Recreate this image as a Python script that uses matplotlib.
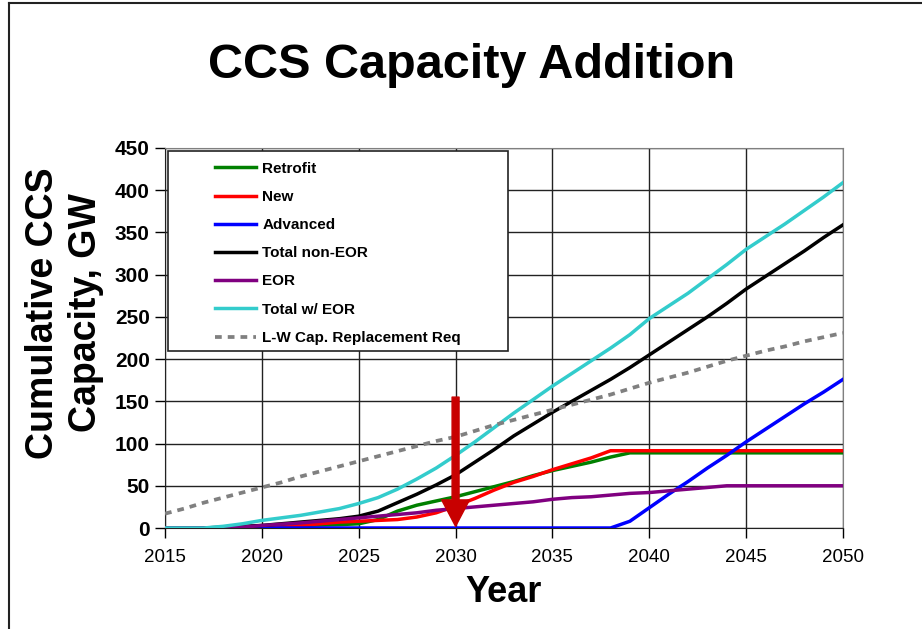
import matplotlib
matplotlib.use('Agg')
import matplotlib.pyplot as plt
from matplotlib.lines import Line2D
from matplotlib.patches import Rectangle

plt.rcParams['font.family'] = ['Liberation Sans', 'DejaVu Sans']

years = list(range(2015, 2051))

retrofit = [0, 0, 0, 0, 0.5, 1, 2, 3, 3.5, 4, 5, 10, 20, 27, 32, 37, 43, 49, 55, 62,
            68, 73, 78, 84, 89, 89, 89, 89, 89, 89, 89, 89, 89, 89, 89, 89]
new = [0, 0, 0, 0, 0, 1, 2, 3, 5, 7, 8, 9, 10, 13, 18, 26, 35, 45, 54, 61,
       69, 76, 83, 91.5, 91.5, 91.5, 91.5, 91.5, 91.5, 91.5, 91.5, 91.5, 91.5, 91.5, 91.5, 91.5]
advanced = [0, 0, 0, 0, 0, 0, 0, 0, 0, 0, 0, 0, 0, 0, 0, 0, 0, 0, 0, 0,
            0, 0, 0, 0, 8, 24, 40, 55, 71, 86, 102, 117, 132, 147, 161, 176]
total_non_eor = [0, 0, 0, 1, 2, 3, 5, 7, 9, 11, 14, 20, 30, 40, 51, 63, 78, 93, 109, 123,
                 137, 150, 163, 176, 190, 205, 220, 235, 250, 266, 283, 298, 313, 328, 344, 359]
eor = [0, 0, 0, 0.5, 1, 3, 4.5, 6, 8, 10, 12, 14, 16, 18, 21, 23, 25, 27, 29, 31,
       34, 36, 37, 39, 41, 42, 44, 46, 48, 50, 50, 50, 50, 50, 50, 50]
total_w_eor = [0, 0, 0, 2, 5, 9, 12, 15, 19, 23, 29, 36, 46, 58, 71, 86, 102, 119, 136, 152,
               168, 183, 198, 213, 229, 248, 263, 278, 295, 312, 330, 345, 360, 376, 392, 409]
lw_replacement = [17, 23, 30, 36, 42, 48, 54, 61, 67, 73, 79, 85, 91, 97, 103, 108, 115, 122, 128, 134,
                  140, 146, 152, 158, 165, 172, 178, 184, 191, 198, 204, 210, 215, 221, 226, 231]

series_labels = ['Retrofit', 'New', 'Advanced', 'Total non-EOR', 'EOR', 'Total w/ EOR',
                 'L-W Cap. Replacement Req']
series_colors = ['#008000', '#FF0000', '#0000FF', '#000000', '#800080', '#33CCCC', '#808080']

arrow_year = 2030
arrow_from = 155
arrow_to = 2

fig = plt.figure(figsize=(9.22, 6.29), dpi=100)
ax = fig.add_axes([165 / 922, 1 - 528 / 629, 678 / 922, 380 / 629])

data = [retrofit, new, advanced, total_non_eor, eor, total_w_eor]
for vals, lab, col in zip(data, series_labels[:6], series_colors[:6]):
    ax.plot(years, vals, color=col, lw=2.5, label=lab, zorder=3)
ax.plot(years, lw_replacement, color=series_colors[6], lw=2.7, ls=(0, (1.8, 1.6)),
        label=series_labels[6], zorder=3)

ax.set_xlim(2015, 2050)
ax.set_ylim(0, 450)
ax.set_xticks(range(2015, 2051, 5))
ax.set_yticks(range(0, 451, 50))
ax.grid(True, color='#222222', lw=1.0)
ax.set_axisbelow(True)
for side in ['top', 'right']:
    ax.spines[side].set_color('#808080')
for side in ['left', 'bottom']:
    ax.spines[side].set_color('#222222')
ax.tick_params(axis='x', direction='out', length=7, width=1, labelsize=13.5, pad=8)
ax.tick_params(axis='y', direction='out', length=7, width=1, labelsize=15, pad=4)
for t in ax.get_yticklabels():
    t.set_fontweight('bold')

# red arrow at 2030
ax.annotate('', xy=(arrow_year, arrow_to), xytext=(arrow_year, arrow_from),
            arrowprops=dict(arrowstyle='simple,head_length=19,head_width=20,tail_width=5',
                            mutation_scale=1, color='#C80000', shrinkA=0, shrinkB=0),
            zorder=5)

# legend, frame drawn separately so the padding can be wider than tall
handles, labels = ax.get_legend_handles_labels()
leg = fig.legend(handles, labels, loc='upper left',
                 bbox_to_anchor=(207 / 922, 1 - 154 / 629), bbox_transform=fig.transFigure,
                 frameon=False, borderpad=0, handlelength=2.7, handletextpad=0.42,
                 labelspacing=0.93, prop={'weight': 'bold', 'size': 11})
fig.patches.append(Rectangle((168 / 922, 1 - 351 / 629), 340 / 922, 200 / 629,
                             transform=fig.transFigure, fill=True, facecolor='white',
                             edgecolor='#222222', lw=1.2, zorder=2))

fig.text(472 / 922, 1 - 65 / 629, 'CCS Capacity Addition', ha='center', va='center',
         fontsize=35, fontweight='bold')
fig.text(504 / 922, 1 - 593 / 629, 'Year', ha='center', va='center',
         fontsize=26, fontweight='bold')
fig.text(65 / 922, 1 - 313 / 629, 'Cumulative CCS\nCapacity, GW', ha='center', va='center',
         rotation=90, fontsize=27, fontweight='bold', linespacing=1.25)

# page frame (top and left edges)
fig.add_artist(Line2D([8.5 / 922, 8.5 / 922], [0, 1 - 2.5 / 629], color='#222222', lw=1.5,
                      transform=fig.transFigure))
fig.add_artist(Line2D([8.5 / 922, 1], [1 - 2.5 / 629, 1 - 2.5 / 629], color='#222222', lw=1.5,
                      transform=fig.transFigure))

fig.savefig('out.png', dpi=100)
